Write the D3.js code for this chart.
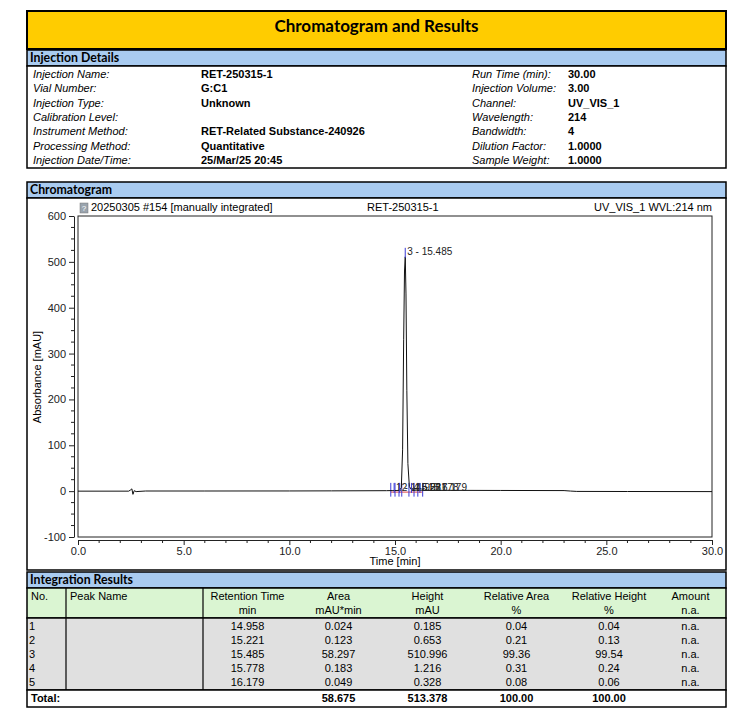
<!DOCTYPE html>
<html>
<head>
<meta charset="utf-8">
<script src="https://cdn.jsdelivr.net/npm/d3@7"></script>
<style>
    body { margin: 0; background: #fff; }
    text { font-family: "Liberation Sans", Arial, sans-serif; }
    .head { font-family: Lato, "Noto Sans", sans-serif; font-weight: bold; }
    .axis text { font-size: 11px; fill: #222; }
    .axis path, .axis line { stroke: #222; }
</style>
</head>
<body>
<div id="chart"></div>
<script>
// ---- data ----
const leftLabels = ["Injection Name:", "Vial Number:", "Injection Type:", "Calibration Level:",
    "Instrument Method:", "Processing Method:", "Injection Date/Time:"];
const leftValues = ["RET-250315-1", "G:C1", "Unknown", "", "RET-Related Substance-240926",
    "Quantitative", "25/Mar/25 20:45"];
const rightLabels = ["Run Time (min):", "Injection Volume:", "Channel:", "Wavelength:",
    "Bandwidth:", "Dilution Factor:", "Sample Weight:"];
const rightValues = ["30.00", "3.00", "UV_VIS_1", "214", "4", "1.0000", "1.0000"];

// chromatogram trace (time in min, absorbance in mAU)
const traceTime = [0, 2.40, 2.50, 2.55, 2.60, 2.66, 2.75, 3.2, 6.0, 10.0, 12.0, 14.6, 14.9, 14.958,
    15.05, 15.15, 15.221, 15.30, 15.36, 15.41, 15.45, 15.485, 15.52, 15.56, 15.61, 15.68,
    15.778, 15.90, 16.179, 16.4, 17.0, 20.0, 23.0, 23.3, 23.6, 26.0, 30.0];
const traceAbs = [0, 0, 3, 5, -7, 1, -1, 0.3, 0.3, 0.4, 0.6, 1.0, 1.3, 1.5,
    1.3, 1.6, 2.0, 8, 90, 330, 480, 511, 430, 220, 60, 10,
    3.2, 2.5, 2.3, 2.0, 1.8, 1.5, 1.2, 0.2, -0.6, -0.8, -1.0];

const peakNo = [1, 2, 3, 4, 5];
const peakRt = [14.958, 15.221, 15.485, 15.778, 16.179];
const peakArea = [0.024, 0.123, 58.297, 0.183, 0.049];
const peakHeight = [0.185, 0.653, 510.996, 1.216, 0.328];
const relArea = [0.04, 0.21, 99.36, 0.31, 0.08];
const relHeight = [0.04, 0.13, 99.54, 0.24, 0.06];
const delimiters = [14.80, 15.0, 15.19, 15.32, 15.66, 15.90, 16.08, 16.31];

const totals = ["58.675", "513.378", "100.00", "100.00"];

const xMajor = [0, 5, 10, 15, 20, 25, 30];
const yMajor = [-100, 0, 100, 200, 300, 400, 500, 600];

// ---- layout ----
const W = 741, H = 728, L = 27, R = 726;
const yellow = "#FFCC00", blue = "#A9CBF0", green = "#DAF5D2", grey = "#E0E0E0";

const svg = d3.select("#chart").append("svg").attr("width", W).attr("height", H);

function box(x, y, w, h, fill, sw) {
    svg.append("rect").attr("x", x).attr("y", y).attr("width", w).attr("height", h)
        .attr("fill", fill || "none").attr("stroke", "#000").attr("stroke-width", sw || 1.5);
}
function txt(x, y, s, opts) {
    opts = opts || {};
    return svg.append("text").attr("x", x).attr("y", y).text(s)
        .attr("font-size", opts.size || 11)
        .attr("font-style", opts.italic ? "italic" : null)
        .attr("font-weight", opts.bold ? "bold" : null)
        .attr("text-anchor", opts.anchor || "start")
        .attr("dominant-baseline", "middle")
        .attr("fill", opts.fill || "#000");
}
function bar(y, h, label) {
    box(L, y, R - L, h, blue, 1.5);
    txt(L + 3, y + h / 2 + 0.5, label, { size: 12.3 }).attr("class", "head");
}

// title
box(L, 11, R - L, 38, yellow, 2);
txt((L + R) / 2, 28, "Chromatogram and Results", { size: 17, anchor: "middle" }).attr("class", "head");

// injection details
bar(50, 16, "Injection Details");
box(L, 66, R - L, 102, "#fff", 1.5);
const rowY = i => 75 + i * 14.33;
leftLabels.forEach((d, i) => txt(33, rowY(i), d, { italic: true }));
leftValues.forEach((d, i) => txt(201, rowY(i), d, { bold: true }));
rightLabels.forEach((d, i) => txt(472, rowY(i), d, { italic: true }));
rightValues.forEach((d, i) => txt(568, rowY(i), d, { bold: true }));

// chromatogram section
bar(182, 16, "Chromatogram");
box(L, 198, R - L, 372, "#fff", 1.5);

const plot = { left: 78, right: 712, top: 216, bottom: 537 };
const xScale = d3.scaleLinear().domain([0, 30]).range([plot.left, plot.right]);
const yScale = d3.scaleLinear().domain([-100, 600]).range([plot.bottom, plot.top]);

svg.append("rect").attr("x", plot.left).attr("y", plot.top)
    .attr("width", plot.right - plot.left).attr("height", plot.bottom - plot.top)
    .attr("fill", "none").attr("stroke", "#222").attr("stroke-width", 1);

// header line of the plot
const icon = svg.append("g").attr("transform", "translate(80,203)");
icon.append("rect").attr("width", 8).attr("height", 10).attr("fill", "#9aa4ae").attr("stroke", "#777").attr("stroke-width", 0.5);
icon.append("text").attr("x", 4).attr("y", 7.5).attr("font-size", 8).attr("text-anchor", "middle").attr("fill", "#fff").text("?");
txt(91, 208, "20250305 #154 [manually integrated]", { size: 11 });
txt(367, 208, "RET-250315-1", { size: 11 });
txt(712, 208, "UV_VIS_1 WVL:214 nm", { size: 11, anchor: "end" });

// axes
const xMinor = d3.range(0, 31, 1).filter(d => d % 5 !== 0);
const yMinor = d3.range(-100, 601, 25).filter(d => d % 100 !== 0);

const gx = svg.append("g").attr("class", "axis")
    .attr("transform", `translate(0,${plot.bottom + 3})`)
    .call(d3.axisBottom(xScale).tickValues(xMajor).tickSize(5).tickSizeOuter(0).tickFormat(d3.format(".1f")));
gx.selectAll("text").attr("dy", "0.6em");
svg.append("g").attr("transform", `translate(0,${plot.bottom + 3})`)
    .selectAll("line").data(xMinor).join("line")
    .attr("x1", d => xScale(d)).attr("x2", d => xScale(d)).attr("y1", 0).attr("y2", 3).attr("stroke", "#222");

svg.append("g").attr("class", "axis")
    .attr("transform", `translate(${plot.left - 4},0)`)
    .call(d3.axisLeft(yScale).tickValues(yMajor).tickSize(5).tickSizeOuter(0).tickFormat(d => String(d)));
svg.append("g").attr("transform", `translate(${plot.left - 4},0)`)
    .selectAll("line").data(yMinor).join("line")
    .attr("x1", 0).attr("x2", -3).attr("y1", d => yScale(d)).attr("y2", d => yScale(d)).attr("stroke", "#222");

txt(395, 562, "Time [min]", { size: 11, anchor: "middle" });
txt(0, 0, "Absorbance [mAU]", { size: 11, anchor: "middle" })
    .attr("transform", "translate(38,377) rotate(-90)");

// integration baseline + delimiters
svg.append("line").attr("x1", xScale(delimiters[0])).attr("x2", xScale(delimiters[delimiters.length - 1]))
    .attr("y1", yScale(-2)).attr("y2", yScale(-2)).attr("stroke", "#e86a6a").attr("stroke-width", 1.2);
svg.selectAll("line.delim").data(delimiters).join("line").attr("class", "delim")
    .attr("x1", d => xScale(d)).attr("x2", d => xScale(d))
    .attr("y1", yScale(18)).attr("y2", yScale(-12))
    .attr("stroke", "#3b3bd6").attr("stroke-width", 1);

// trace
const trace = traceTime.map((t, i) => [t, traceAbs[i]]);
svg.append("path").datum(trace)
    .attr("d", d3.line().x(d => xScale(d[0])).y(d => yScale(d[1])))
    .attr("fill", "none").attr("stroke", "#111").attr("stroke-width", 1);

// peak labels (the small ones overlap each other, as in the report)
peakNo.forEach((n, i) => {
    const main = peakHeight[i] > 100;
    const lx = xScale(peakRt[i]);
    const ly = main ? yScale(peakHeight[i]) - 4 : yScale(7);
    svg.append("line").attr("x1", lx).attr("x2", lx).attr("y1", ly - 5).attr("y2", ly + 5)
        .attr("stroke", "#3b3bd6");
    txt(lx + 2, ly, `${n} - ${peakRt[i].toFixed(3)}`, { size: 10, fill: "#222" });
});

// integration results
bar(572, 16, "Integration Results");
const cols = [27, 66, 203, 292, 385, 470, 563, 655, 726];
const colMid = i => (cols[i] + cols[i + 1]) / 2;
box(L, 588, R - L, 30, green, 1.5);
box(L, 618, R - L, 72, grey, 1.5);
box(L, 690, R - L, 17, "#fff", 1.5);
[66, 203].forEach(x => {
    svg.append("line").attr("x1", x).attr("x2", x).attr("y1", 588).attr("y2", 690)
        .attr("stroke", "#000").attr("stroke-width", 1.2);
});

const head1 = ["No.", "Peak Name", "Retention Time", "Area", "Height", "Relative Area", "Relative Height", "Amount"];
const head2 = ["", "", "min", "mAU*min", "mAU", "%", "%", "n.a."];
head1.forEach((d, i) => {
    if (i < 2) txt(cols[i] + 4, 597, d, { size: 11 });
    else txt(colMid(i), 597, d, { size: 11, anchor: "middle" });
});
head2.forEach((d, i) => { if (d) txt(colMid(i), 611, d, { size: 11, anchor: "middle" }); });

peakNo.forEach((n, i) => {
    const y = 627 + i * 14;
    txt(29, y, n, { size: 11 });
    txt(colMid(2), y, peakRt[i].toFixed(3), { size: 11, anchor: "middle" });
    txt(colMid(3), y, peakArea[i].toFixed(3), { size: 11, anchor: "middle" });
    txt(colMid(4), y, peakHeight[i].toFixed(3), { size: 11, anchor: "middle" });
    txt(colMid(5), y, relArea[i].toFixed(2), { size: 11, anchor: "middle" });
    txt(colMid(6), y, relHeight[i].toFixed(2), { size: 11, anchor: "middle" });
    txt(colMid(7), y, "n.a.", { size: 11, anchor: "middle" });
});

txt(31, 699, "Total:", { size: 11, bold: true });
totals.forEach((d, i) => txt(colMid(i + 3), 699, d, { size: 11, bold: true, anchor: "middle" }));
</script>
</body>
</html>
